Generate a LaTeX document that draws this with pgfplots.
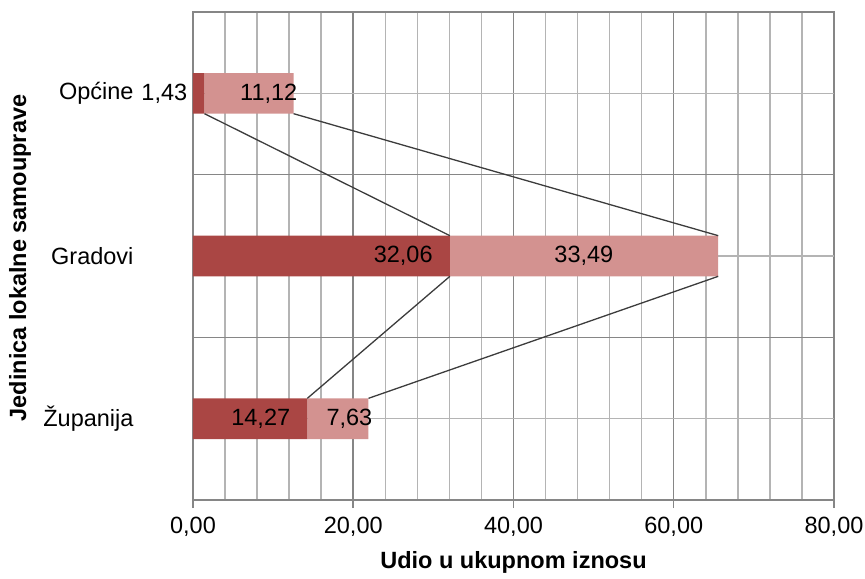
\documentclass[border=0pt]{standalone}
\usepackage{fontspec}
\setmainfont{Liberation Sans}
\usepackage{pgfplots}
\usepackage{pgfplotstable}
\pgfplotsset{compat=1.18}
\definecolor{darkbar}{HTML}{AA4644}
\definecolor{lightbar}{HTML}{D39290}
\definecolor{majgray}{HTML}{868686}
\definecolor{mingray}{HTML}{B4B4B4}
\definecolor{sline}{HTML}{3C3C3C}
\newcommand{\fs}{\fontsize{23.5bp}{28bp}\selectfont}
\pgfplotstableread{
y dark light dshift lshift
0 1.43 11.12 -11.3 48.5
1 32.06 33.49 111.4 29.4
2 14.27 7.63 40.2 34.6
}\bars
\pgfplotstableread{
x y
1.43 0.125
32.06 0.875
}\slA
\pgfplotstableread{
x y
32.06 1.125
14.27 1.875
}\slB
\pgfplotstableread{
x y
12.55 0.125
65.55 0.875
}\slC
\pgfplotstableread{
x y
65.55 1.125
21.90 1.875
}\slD
\begin{document}
\begin{tikzpicture}
\path[use as bounding box] (-193bp,-79bp) rectangle (672bp,500bp);
\begin{axis}[
  at={(0,0)}, anchor=south west, scale only axis,
  width=641bp, height=488bp,
  xbar stacked, bar width=0.25,
  xmin=0, xmax=80, ymin=-0.5, ymax=2.5, y dir=reverse,
  /pgf/number format/assume math mode=true,
  xtick={0,20,40,60,80}, minor x tick num=4,
  xticklabel={\pgfmathprintnumber[fixed,fixed zerofill,precision=2,use comma]{\tick}},
  ytick={0.5,1.5}, yticklabels={},
  extra y ticks={0,1,2},
  extra y tick labels={Općine,Gradovi,Županija},
  extra y tick style={grid=major, major grid style={draw=mingray, line width=1.5bp}},
  xmajorgrids, xminorgrids, ymajorgrids,
  major grid style={draw=majgray, line width=1.5bp},
  minor grid style={draw=mingray, line width=1.5bp},
  axis line style={draw=majgray, line width=1.5bp},
  tick align=outside, major tick length=8bp, minor tick length=0pt,
  xtick style={draw=majgray, line width=1.5bp},
  ytick style={draw=none},
  xtick pos=bottom, ytick pos=left,
  tick label style={font=\fs, text=black},
  yticklabel style={xshift=-48bp},
  xticklabel style={yshift=-6bp},
  xlabel={Udio u ukupnom iznosu},
  ylabel={Jedinica lokalne samouprave},
  label style={font=\fs\bfseries},
  xlabel style={at={(axis description cs:0.5,0)}, anchor=base, yshift=-68bp},
  ylabel style={at={(axis description cs:-0.2699,0.496)}, anchor=center},
]
\addplot[fill=darkbar, draw=none, point meta=explicit,
  visualization depends on={\thisrow{dshift} \as \dshift},
  nodes near coords={\pgfmathprintnumber[fixed,fixed zerofill,precision=2,use comma]{\pgfplotspointmeta}},
  every node near coord/.append style={anchor=east, inner sep=0pt, xshift=\dshift bp, font=\fs, text=black}]
  table[x=dark, y=y, meta=dark]{\bars};
\addplot[fill=lightbar, draw=none, point meta=explicit,
  visualization depends on={\thisrow{lshift} \as \lshift},
  nodes near coords={\pgfmathprintnumber[fixed,fixed zerofill,precision=2,use comma]{\pgfplotspointmeta}},
  every node near coord/.append style={anchor=east, inner sep=0pt, xshift=\lshift bp, font=\fs, text=black}]
  table[x=light, y=y, meta=light]{\bars};
\end{axis}
\begin{axis}[
  at={(0,0)}, anchor=south west, scale only axis,
  width=641bp, height=488bp,
  xmin=0, xmax=80, ymin=-0.5, ymax=2.5, y dir=reverse,
  hide axis,
]
\addplot[draw=sline, line width=1.3bp, mark=none] table[x=x,y=y]{\slA};
\addplot[draw=sline, line width=1.3bp, mark=none] table[x=x,y=y]{\slB};
\addplot[draw=sline, line width=1.3bp, mark=none] table[x=x,y=y]{\slC};
\addplot[draw=sline, line width=1.3bp, mark=none] table[x=x,y=y]{\slD};
\end{axis}
\end{tikzpicture}
\end{document}
